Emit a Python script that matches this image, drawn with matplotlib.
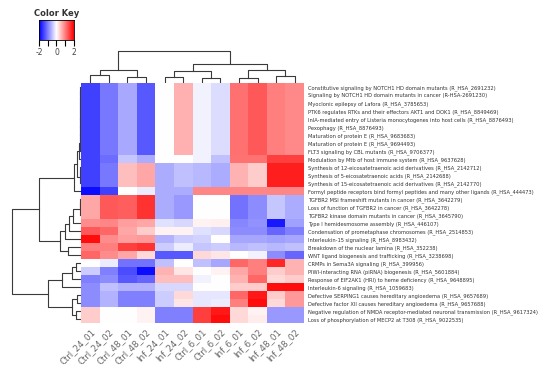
import matplotlib
matplotlib.use('Agg')
import matplotlib.pyplot as plt
import numpy as np
from matplotlib.colors import LinearSegmentedColormap

samples = ['Ctrl_24_01', 'Ctrl_24_02', 'Ctrl_48_01', 'Ctrl_48_02', 'Inf_24_01', 'Inf_24_02',
           'Ctrl_6_01', 'Ctrl_6_02', 'Inf_6_01', 'Inf_6_02', 'Inf_48_01', 'Inf_48_02']

pathways = [
    'Constitutive signaling by NOTCH1 HD domain mutants (R_HSA_2691232)',
    'Signaling by NOTCH1 HD domain mutants in cancer (R-HSA-2691230)',
    'Myoclonic epilepsy of Lafora (R_HSA_3785653)',
    'PTK6 regulates RTKs and their effectors AKT1 and DOK1 (R_HSA_8849469)',
    'InlA-mediated entry of Listeria monocytogenes into host cells (R_HSA_8876493)',
    'Pexophagy (R_HSA_8876493)',
    'Maturation of protein E (R_HSA_9683683)',
    'Maturation of protein E (R_HSA_9694493)',
    'FLT3 signaling by CBL mutants (R_HSA_9706377)',
    'Modulation by Mtb of host immune system (R_HSA_9637628)',
    'Synthesis of 12-eicosatetraenoic acid derivatives (R_HSA_2142712)',
    'Synthesis of 5-eicosatetraenoic acids (R_HSA_2142688)',
    'Synthesis of 15-eicosatetraenoic acid derivatives (R_HSA_2142770)',
    'Formyl peptide receptors bind formyl peptides and many other ligands (R_HSA_444473)',
    'TGFBR2 MSI frameshift mutants in cancer (R_HSA_3642279)',
    'Loss of function of TGFBR2 in cancer (R_HSA_3642278)',
    'TGFBR2 kinase domain mutants in cancer (R_HSA_3645790)',
    'Type I hemidesmosome assembly (R_HSA_446107)',
    'Condensation of prometaphase chromosomes (R_HSA_2514853)',
    'Interleukin-15 signaling (R_HSA_8983432)',
    'Breakdown of the nuclear lamina (R_HSA_352238)',
    'WNT ligand biogenesis and trafficking (R_HSA_3238698)',
    'CRMPs in Sema3A signaling (R_HSA_399956)',
    'PIWI-interacting RNA (piRNA) biogenesis (R_HSA_5601884)',
    'Response of EIF2AK1 (HRI) to heme deficiency (R_HSA_9648895)',
    'Interleukin-6 signaling (R_HSA_1059683)',
    'Defective SERPING1 causes hereditary angioedema (R_HSA_9657689)',
    'Defective factor XII causes hereditary angioedema (R_HSA_9657688)',
    'Negative regulation of NMDA receptor-mediated neuronal transmission (R_HSA_9617324)',
    'Loss of phosphorylation of MECP2 at T308 (R_HSA_9022535)',
]

# row z-scores (top cluster / middle cluster / bottom cluster)
top_rows = [
    [-1.5, -1.05, -0.68, -1.3, 0.0, 0.62, -0.1, -0.27, 1.12, 1.3, 1.0, 0.93],
    [-1.5, -1.05, -0.68, -1.3, 0.0, 0.62, -0.1, -0.27, 1.12, 1.3, 1.0, 0.93],
    [-1.5, -1.05, -0.68, -1.3, 0.0, 0.62, -0.1, -0.27, 1.12, 1.3, 1.0, 0.93],
    [-1.5, -1.05, -0.68, -1.3, 0.0, 0.62, -0.1, -0.27, 1.12, 1.3, 1.0, 0.93],
    [-1.5, -1.05, -0.68, -1.3, 0.0, 0.62, -0.1, -0.27, 1.12, 1.3, 1.0, 0.93],
    [-1.5, -1.05, -0.68, -1.3, 0.0, 0.62, -0.1, -0.27, 1.12, 1.3, 1.0, 0.93],
    [-1.5, -1.05, -0.68, -1.3, 0.0, 0.62, -0.1, -0.27, 1.12, 1.3, 1.0, 0.93],
    [-1.5, -1.05, -0.68, -1.3, 0.0, 0.62, -0.1, -0.27, 1.12, 1.3, 1.0, 0.93],
    [-1.5, -1.05, -0.68, -1.3, 0.0, 0.62, -0.1, -0.27, 1.12, 1.3, 1.0, 0.93],
    [-1.5, -1.15, -0.45, -0.65, 0.0, 0.0, -0.1, -0.5, 1.1, 1.1, 1.5, 1.5],
    [-1.5, -1.05, 0.5, 0.7, -0.65, -0.5, -0.55, -0.65, 0.6, 0.4, 1.75, 1.75],
    [-1.5, -1.05, 0.5, 0.7, -0.65, -0.5, -0.55, -0.65, 0.6, 0.4, 1.75, 1.75],
    [-1.5, -1.05, 0.5, 0.7, -0.65, -0.5, -0.55, -0.65, 0.6, 0.4, 1.75, 1.75],
    [-1.9, -1.5, 0.0, -0.15, -0.65, -0.65, 0.95, 0.95, 0.95, 0.95, 0.95, 0.95],
]
mid_rows = [
    [0.7, 1.3, 1.25, 1.6, -0.65, -0.8, 0.0, 0.0, -1.1, -0.9, -0.45, -0.65],
    [0.7, 1.3, 1.25, 1.6, -0.65, -0.8, 0.0, 0.0, -1.1, -0.9, -0.45, -0.65],
    [0.7, 1.3, 1.25, 1.6, -0.65, -0.8, 0.0, 0.0, -1.1, -0.9, -0.45, -0.65],
    [0.9, 0.95, 0.75, 0.7, -0.25, -0.3, 0.1, 0.12, -0.95, -0.85, -1.8, -0.75],
    [1.3, 1.2, 0.7, 0.4, 0.1, 0.1, -0.25, -0.3, -0.9, -0.9, -1.2, -1.0],
    [1.9, 0.9, 0.75, 0.8, -0.6, -0.4, -0.35, 0.0, -0.7, -0.7, -0.75, -0.7],
    [1.0, 1.0, 1.5, 1.6, -0.4, -0.15, -0.45, -0.4, -0.55, -0.5, -0.55, -0.5],
    [1.2, 0.9, 0.7, 0.3, -1.3, -1.3, 0.3, 0.2, 0.0, -0.1, -0.9, -1.2],
]
bottom_rows = [
    [0.0, -0.15, -1.1, -1.1, -0.5, 0.0, -0.5, -0.7, 1.2, 1.0, 1.7, 0.6],
    [-0.4, -1.0, -1.4, -1.9, 0.6, 0.2, 0.0, 0.1, 0.7, 1.0, 0.4, 0.6],
    [-1.0, -0.9, -1.3, -1.2, 0.5, 0.5, -0.1, 0.0, 0.6, 1.2, 0.3, 0.4],
    [-0.9, -0.5, -0.6, -0.6, -0.3, -0.3, 0.0, 0.0, 0.4, 0.4, 1.9, 1.9],
    [-0.9, -0.6, -1.0, -1.0, -0.4, 0.3, -0.2, -0.2, 1.2, 1.8, 0.4, 0.8],
    [-0.9, -0.6, -1.0, -1.0, -0.4, 0.2, -0.2, -0.15, 1.0, 1.9, 0.3, 0.8],
    [0.4, 0.0, 0.0, 0.1, -1.0, -1.0, 1.5, 1.8, 0.3, 0.1, -0.8, -0.8],
    [0.4, 0.0, 0.0, 0.1, -1.0, -1.0, 1.5, 1.9, 0.3, 0.15, -0.8, -0.8],
]

# dendrograms as merge lists (child a, child b, height); leaves are in display order,
# merged clusters get ids n, n+1, ... like a linkage matrix
col_merges = [(0, 1, 7), (2, 3, 5), (12, 13, 12), (4, 5, 5), (6, 7, 4), (15, 16, 11),
              (8, 9, 4), (10, 11, 6), (18, 19, 12), (17, 20, 18), (14, 21, 31)]
row_merges = [
    (0, 1, 0.5), (30, 2, 0.5), (31, 3, 0.5), (32, 4, 0.5), (33, 5, 0.5), (34, 6, 0.5),
    (35, 7, 0.5), (36, 8, 0.5), (37, 9, 1.5), (10, 11, 0.5), (39, 12, 0.5), (38, 40, 3),
    (41, 13, 6),                                                     # 42: top cluster
    (14, 15, 0.5), (43, 16, 0.5), (44, 17, 7), (45, 18, 11), (46, 19, 15), (20, 21, 12),
    (47, 48, 20),                                                    # 49: red cluster
    (42, 49, 42),                                                    # 50
    (22, 23, 4), (51, 24, 8), (52, 25, 18),                          # 53
    (26, 27, 3), (28, 29, 4), (54, 55, 8),                           # 56
    (53, 56, 32),                                                    # 57
    (50, 57, 69),
]


def dendro_segments(merges, n):
    pos = [p + 0.5 for p in range(n)]
    hts = [0.0] * n
    segs = []
    for a, b, h in merges:
        segs.append(([pos[a], pos[a], pos[b], pos[b]], [hts[a], h, h, hts[b]]))
        pos.append((pos[a] + pos[b]) / 2)
        hts.append(h)
    return segs


data = np.array(top_rows + mid_rows + bottom_rows)
cmap = LinearSegmentedColormap.from_list('bwr_key', ['blue', 'white', 'red'])

W, H = 550, 373
fig = plt.figure(figsize=(5.5, 3.73), dpi=100)


def px_axes(x0, y0, x1, y1):
    return fig.add_axes([x0 / W, 1 - y1 / H, (x1 - x0) / W, (y1 - y0) / H])


# heatmap
ax = px_axes(81, 83, 304, 323)
ax.pcolormesh(data, cmap=cmap, vmin=-2, vmax=2)
ax.set_xlim(0, data.shape[1])
ax.set_ylim(data.shape[0], 0)
ax.set_xticks(np.arange(len(samples)) + 0.5)
ax.set_xticklabels(samples, rotation=45, ha='right', va='top', fontsize=6.2, color='#666666',
                   rotation_mode='anchor')
ax.set_yticks(np.arange(len(pathways)) + 0.5)
ax.set_yticklabels(pathways, fontsize=3.7, color='#333333')
ax.yaxis.tick_right()
ax.tick_params(length=0, pad=3)
for s in ax.spines.values():
    s.set_visible(False)

# column dendrogram
axc = px_axes(81, 49, 304, 83)
for xs, ys in dendro_segments(col_merges, len(samples)):
    axc.plot(xs, ys, color='#3a3a3a', lw=0.8)
axc.set_xlim(0, len(samples))
axc.set_ylim(-1, 33)
axc.axis('off')

# row dendrogram
axr = px_axes(5, 83, 81, 323)
for ys, xs in dendro_segments(row_merges, len(pathways)):
    axr.plot(xs, ys, color='#3a3a3a', lw=0.8)
axr.set_xlim(76, -1)
axr.set_ylim(len(pathways), 0)
axr.axis('off')

# color key
axk = px_axes(39, 20, 74, 40)
key = np.linspace(-2, 2, 100)
axk.imshow(key[np.newaxis, :], aspect='auto', cmap=cmap, vmin=-2, vmax=2, extent=(-2, 2, 0, 1))
axk.set_yticks([])
axk.set_xticks([-2, -1, 0, 1, 2])
axk.set_xticklabels(['-2', '', '0', '', '2'], fontsize=5.5, color='#444444')
axk.tick_params(axis='x', length=4, width=0.8, pad=2)
for s in axk.spines.values():
    s.set_linewidth(0.6)
fig.text(57 / W, 1 - 13 / H, 'Color Key', ha='center', va='center', fontsize=6,
         fontweight='bold', color='#333333')

fig.savefig('out.png', dpi=100)
